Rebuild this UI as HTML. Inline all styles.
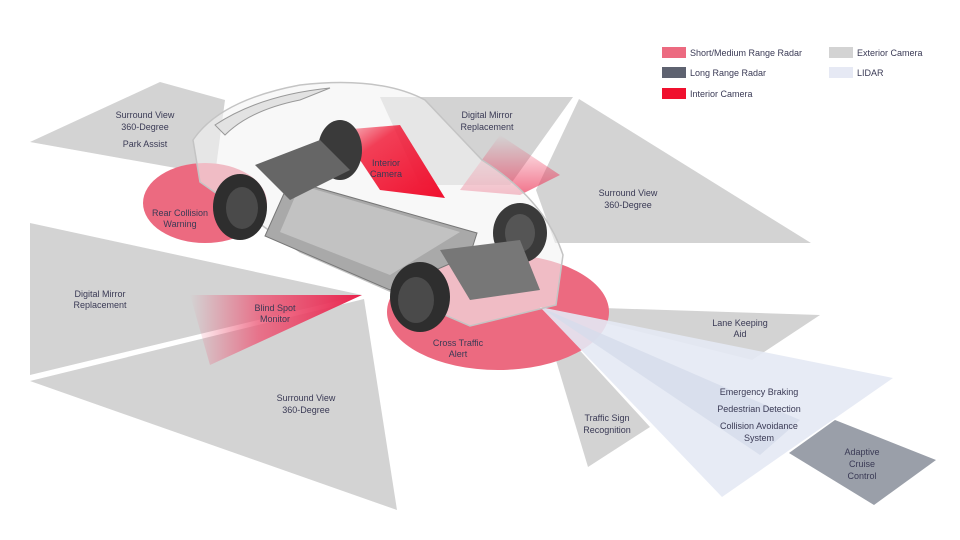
<!DOCTYPE html>
<html><head><meta charset="utf-8"><style>
html,body{margin:0;padding:0;background:#fff;width:960px;height:540px;overflow:hidden}
svg{display:block}
text{font-family:"Liberation Sans",sans-serif;font-size:9px;fill:#3a3a55;text-anchor:middle}
.lg{text-anchor:start;font-size:9px}
</style></head><body>
<svg width="960" height="540" viewBox="0 0 960 540">
<defs>
<linearGradient id="bs" x1="1" y1="0" x2="0" y2="0"><stop offset="0" stop-color="#e8204a"/><stop offset="0.6" stop-color="#ec5a78" stop-opacity="0.8"/><stop offset="1" stop-color="#ec5a78" stop-opacity="0"/></linearGradient>
<linearGradient id="ic" x1="1" y1="1" x2="0" y2="0"><stop offset="0" stop-color="#f0102e"/><stop offset="0.7" stop-color="#f0102e" stop-opacity="0.8"/><stop offset="1" stop-color="#f0102e" stop-opacity="0.2"/></linearGradient>
<linearGradient id="dm" x1="0" y1="1" x2="0" y2="0"><stop offset="0" stop-color="#ec3a5c" stop-opacity="0.9"/><stop offset="1" stop-color="#ec3a5c" stop-opacity="0"/></linearGradient>
</defs>
<polygon points="160,82 30,142 215,175 225,100" fill="#d3d3d3"/>
<polygon points="30,223 30,375 362,295" fill="#d3d3d3"/>
<polygon points="30,381 364,299 397,510" fill="#d3d3d3"/>
<polygon points="380,97 573,97 510,185 420,185" fill="#d3d3d3"/>
<polygon points="579,99 811,243 555,243 536,190" fill="#d3d3d3"/>
<polygon points="540,307 603,308 820,315 752,360" fill="#d3d3d3"/>
<polygon points="540,307 588,467 650,427" fill="#d3d3d3"/>
<polygon points="362,295 190,295 210,365" fill="url(#bs)"/>
<polygon points="460,190 500,135 560,175 520,195" fill="url(#dm)" opacity="0.8"/>
<ellipse cx="205" cy="203" rx="62" ry="40" fill="#ec6a80"/>
<ellipse cx="498" cy="312" rx="111" ry="58" fill="#ec6a80"/>
<polygon points="540,307 893,378 722,497" fill="#e4e9f4" opacity="0.9"/>
<polygon points="540,307 800,420 760,455" fill="#d6dceb" opacity="0.8"/>
<polygon points="789,453 835,420 936,460 874,505" fill="#9a9fa9"/>
<path d="M200,182 L193,140 Q220,100 300,85 Q380,76 425,100 L482,160 Q545,200 563,255 L556,305 L470,326 L300,252 Z" fill="#f4f4f4" fill-opacity="0.6" stroke="#c4c4c4" stroke-width="1.5"/>
<path d="M215,125 Q260,95 330,88 L300,100 Q250,110 225,135 Z" fill="#e2e2e2" stroke="#999" stroke-width="1"/>
<polygon points="340,130 400,125 445,198 380,190" fill="url(#ic)"/>
<ellipse cx="340" cy="150" rx="22" ry="30" fill="#3a3a3a"/>
<ellipse cx="520" cy="233" rx="27" ry="30" fill="#3a3a3a"/>
<ellipse cx="520" cy="233" rx="15" ry="19" fill="#555"/>
<polygon points="290,180 477,233 470,255 390,290 265,236" fill="#a9a9a9" stroke="#777"/>
<polygon points="300,185 460,232 390,275 280,232" fill="#c2c2c2"/>
<polygon points="255,165 320,140 350,170 290,200" fill="#666"/>
<polygon points="440,250 520,240 540,290 470,300" fill="#777"/>
<ellipse cx="240" cy="207" rx="27" ry="33" fill="#2e2e2e"/>
<ellipse cx="242" cy="208" rx="16" ry="21" fill="#4a4a4a"/>
<ellipse cx="420" cy="297" rx="30" ry="35" fill="#2e2e2e"/>
<ellipse cx="416" cy="300" rx="18" ry="23" fill="#4a4a4a"/>
<text x="145" y="118">Surround View</text><text x="145" y="130">360-Degree</text><text x="145" y="147">Park Assist</text>
<text x="180" y="216">Rear Collision</text><text x="180" y="227">Warning</text>
<text x="386" y="166">Interior</text><text x="386" y="177">Camera</text>
<text x="487" y="118">Digital Mirror</text><text x="487" y="130">Replacement</text>
<text x="628" y="196">Surround View</text><text x="628" y="208">360-Degree</text>
<text x="100" y="297">Digital Mirror</text><text x="100" y="308">Replacement</text>
<text x="275" y="311">Blind Spot</text><text x="275" y="322">Monitor</text>
<text x="458" y="346">Cross Traffic</text><text x="458" y="357">Alert</text>
<text x="306" y="401">Surround View</text><text x="306" y="413">360-Degree</text>
<text x="740" y="326">Lane Keeping</text><text x="740" y="337">Aid</text>
<text x="607" y="421">Traffic Sign</text><text x="607" y="433">Recognition</text>
<text x="759" y="395">Emergency Braking</text>
<text x="759" y="412">Pedestrian Detection</text>
<text x="759" y="429">Collision Avoidance</text><text x="759" y="441">System</text>
<text x="862" y="455">Adaptive</text><text x="862" y="467">Cruise</text><text x="862" y="479">Control</text>
<rect x="662" y="47" width="24" height="11" fill="#ec6a80"/><text class="lg" x="690" y="56">Short/Medium Range Radar</text>
<rect x="662" y="67" width="24" height="11" fill="#5e6270"/><text class="lg" x="690" y="76">Long Range Radar</text>
<rect x="662" y="88" width="24" height="11" fill="#f0102e"/><text class="lg" x="690" y="97">Interior Camera</text>
<rect x="829" y="47" width="24" height="11" fill="#d3d3d3"/><text class="lg" x="857" y="56">Exterior Camera</text>
<rect x="829" y="67" width="24" height="11" fill="#e6e9f4"/><text class="lg" x="857" y="76">LIDAR</text>
</svg>
</body></html>
